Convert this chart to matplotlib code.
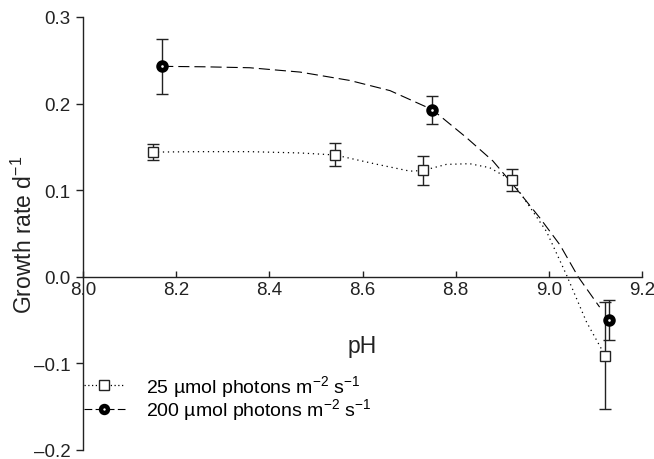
import matplotlib
matplotlib.use('Agg')
from matplotlib import pyplot as plt

plt.rcParams['font.family'] = ['Liberation Sans', 'DejaVu Sans']
plt.rcParams['mathtext.fontset'] = 'custom'
plt.rcParams['mathtext.rm'] = 'Liberation Sans'
plt.rcParams['mathtext.it'] = 'Liberation Sans:italic'

# measured points (pH, growth rate, error)
ph_25 = [8.15, 8.54, 8.73, 8.92, 9.12]
rate_25 = [0.144, 0.141, 0.123, 0.112, -0.091]
err_25 = [0.009, 0.013, 0.017, 0.013, 0.062]

ph_200 = [8.17, 8.75, 9.13]
rate_200 = [0.243, 0.193, -0.050]
err_200 = [0.032, 0.016, 0.023]

# fitted curves
curve_x_25 = [8.15, 8.25, 8.358, 8.466, 8.541, 8.63, 8.702, 8.73, 8.78, 8.83, 8.873,
              8.92, 8.995, 9.038, 9.081, 9.113, 9.12]
curve_y_25 = [0.144, 0.1445, 0.1445, 0.143, 0.1407, 0.130, 0.122, 0.1228, 0.1298, 0.1306, 0.126,
              0.1116, 0.0523, 0.002, -0.0523, -0.0834, -0.0915]
curve_x_200 = [8.17, 8.26, 8.358, 8.466, 8.573, 8.659, 8.75, 8.823, 8.88, 8.923,
               8.981, 9.024, 9.063, 9.109]
curve_y_200 = [0.243, 0.2425, 0.2414, 0.2364, 0.2267, 0.215, 0.193, 0.1608, 0.1337, 0.1065,
               0.0678, 0.0367, 0.0, -0.035]

xticks = [8.0, 8.2, 8.4, 8.6, 8.8, 9.0, 9.2]
yticks = [-0.2, -0.1, 0.0, 0.1, 0.2, 0.3]

fig = plt.figure(figsize=(6.54, 4.6), dpi=100)
ax = fig.add_axes([83 / 654, 9 / 460, 559 / 654, 433 / 460])

ax.plot(curve_x_25, curve_y_25, color='black', lw=0.9, linestyle=(0, (1, 3)))
ax.plot(curve_x_200, curve_y_200, color='black', lw=0.8, linestyle=(0, (10, 4.5)))

ax.errorbar(ph_25, rate_25, yerr=err_25, fmt='none', ecolor='#222222',
            elinewidth=1.0, capsize=4.3, capthick=1.0, zorder=3)
ax.errorbar(ph_200, rate_200, yerr=err_200, fmt='none', ecolor='#222222',
            elinewidth=1.0, capsize=4.3, capthick=1.0, zorder=3)
ax.plot(ph_25, rate_25, 's', ms=7.5, mfc='white', mec='#222222', mew=1.0, zorder=4)
ax.plot(ph_200, rate_200, 'o', ms=5.5, mfc='white', mec='black', mew=3.5, zorder=4)

# legend handles
h1, = ax.plot([], [], color='black', lw=0.9, linestyle=(0, (1, 2)),
              marker='s', ms=6.5, mfc='white', mec='#222222', mew=1.0)
h2, = ax.plot([], [], color='black', lw=0.8, linestyle=(0, (7, 3)),
              marker='o', ms=5, mfc='white', mec='black', mew=3.2)
ax.legend([h1, h2],
          ['25 µmol photons m$^{-2}$ s$^{-1}$', '200 µmol photons m$^{-2}$ s$^{-1}$'],
          loc='upper left', bbox_to_anchor=(84 / 654, 1 - 374 / 460),
          bbox_transform=fig.transFigure, frameon=False, fontsize=14,
          handlelength=2.1, handletextpad=1.1, labelspacing=-0.12,
          borderpad=0, borderaxespad=0)

ax.set_xlim(8.0, 9.2)
ax.set_ylim(-0.2, 0.3)
ax.set_xticks(xticks)
ax.set_xticklabels(['%.1f' % v for v in xticks])
ax.set_yticks(yticks)
ax.set_yticklabels([('%.1f' % v).replace('-', '\u2013') for v in yticks])

ax.spines['top'].set_visible(False)
ax.spines['right'].set_visible(False)
ax.spines['bottom'].set_position(('data', 0))
for s in ['left', 'bottom']:
    ax.spines[s].set_linewidth(1.0)
    ax.spines[s].set_color('#222222')

ax.tick_params(axis='x', direction='in', length=4, width=1.0, labelsize=13.5, pad=3, colors='#222222')
ax.tick_params(axis='y', direction='out', length=5, width=1.0, labelsize=13.5, pad=4, colors='#222222')

ax.set_ylabel('Growth rate d$^{-1}$', fontsize=16.5, color='#222222', labelpad=-2)
ax.text(8.6, -0.079, 'pH', fontsize=16.5, ha='center', va='center', color='#222222')

fig.savefig('out.png', dpi=100)
